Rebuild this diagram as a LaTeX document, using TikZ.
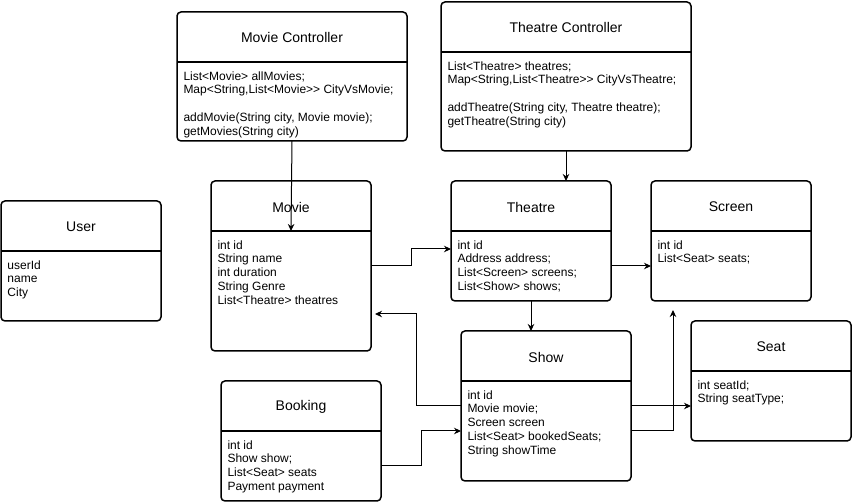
\documentclass[tikz,border=0pt]{standalone}
\usepackage{fontspec}
\setmainfont{Liberation Sans}
\usetikzlibrary{arrows.meta,positioning,calc}

\begin{document}
\begin{tikzpicture}[x=1pt, y=-1pt, >={Stealth[length=7pt,width=6.5pt]}, line width=1pt,
    classbox/.style={draw, line width=1.5pt, rounded corners=4pt, anchor=north west,
      inner sep=0pt, outer sep=0pt},
    title/.style={font=\fontsize{14}{16}\selectfont},
    body/.style={anchor=north west, inner sep=0pt, align=left, font=\fontsize{12}{13.8}\selectfont}]
  \useasboundingbox (0,0) rectangle (852,502);

  % class boxes
  \node[classbox, minimum width=230pt, minimum height=129pt] (moviectrl) at (177,12) {};
  \node[classbox, minimum width=250pt, minimum height=149pt] (thctrl) at (441,2) {};
  \node[classbox, minimum width=160pt, minimum height=120pt] (user) at (1,201) {};
  \node[classbox, minimum width=160pt, minimum height=170pt] (movie) at (211,181) {};
  \node[classbox, minimum width=160pt, minimum height=120pt] (theatre) at (451,181) {};
  \node[classbox, minimum width=160pt, minimum height=120pt] (screen) at (651,181) {};
  \node[classbox, minimum width=170pt, minimum height=150pt] (show) at (461,331) {};
  \node[classbox, minimum width=160pt, minimum height=120pt] (seat) at (691,321) {};
  \node[classbox, minimum width=160pt, minimum height=120pt] (booking) at (221,381) {};

  \foreach \n in {moviectrl,thctrl,user,movie,theatre,screen,show,seat,booking}
    \draw[line width=1.5pt] ([yshift=-50pt]\n.north west) -- ([yshift=-50pt]\n.north east);

  % titles
  \node[title] (moviectrl-t) at ([yshift=-26pt]moviectrl.north) {Movie Controller};
  \node[title] (thctrl-t) at ([yshift=-26pt]thctrl.north) {Theatre Controller};
  \node[title] (user-t) at ([yshift=-26pt]user.north) {User};
  \node[title] (movie-t) at ([yshift=-26pt]movie.north) {Movie};
  \node[title] (theatre-t) at ([yshift=-26pt]theatre.north) {Theatre};
  \node[title] (screen-t) at ([yshift=-26pt]screen.north) {Screen};
  \node[title] (show-t) at ([yshift=-26pt]show.north) {Show};
  \node[title] (seat-t) at ([yshift=-26pt]seat.north) {Seat};
  \node[title] (booking-t) at ([yshift=-26pt]booking.north) {Booking};

  % members
  \node[body] (moviectrl-b) at ([xshift=6pt,yshift=-59pt]moviectrl.north west)
    {List<Movie> allMovies;\\Map<String,List<Movie{>}> CityVsMovie;\\[13.8pt]
     addMovie(String city, Movie movie);\\getMovies(String city)};
  \node[body] (thctrl-b) at ([xshift=6pt,yshift=-59pt]thctrl.north west)
    {List<Theatre> theatres;\\Map<String,List<Theatre{>}> CityVsTheatre;\\[13.8pt]
     addTheatre(String city, Theatre theatre);\\getTheatre(String city)};
  \node[body] (user-b) at ([xshift=6pt,yshift=-59pt]user.north west)
    {userId\\name\\City};
  \node[body] (movie-b) at ([xshift=6pt,yshift=-59pt]movie.north west)
    {int id\\String name\\int duration\\String Genre\\List<Theatre> theatres};
  \node[body] (theatre-b) at ([xshift=6pt,yshift=-59pt]theatre.north west)
    {int id\\Address address;\\List<Screen> screens;\\List<Show> shows;};
  \node[body] (screen-b) at ([xshift=6pt,yshift=-59pt]screen.north west)
    {int id\\List<Seat> seats;};
  \node[body] (show-b) at ([xshift=6pt,yshift=-59pt]show.north west)
    {int id\\Movie movie;\\Screen screen\\List<Seat> bookedSeats;\\String showTime};
  \node[body] (seat-b) at ([xshift=6pt,yshift=-59pt]seat.north west)
    {int seatId;\\String seatType;};
  \node[body] (booking-b) at ([xshift=6pt,yshift=-59pt]booking.north west)
    {int id\\Show show;\\List<Seat> seats\\Payment payment};

  % associations
  \draw[->] (moviectrl.south) -- ([yshift=-50pt]movie.north);
  \draw[->] (thctrl.south) -- (thctrl.south |- theatre.north);
  \draw[->] (movie.east) -- ++(40pt,0) |- ([yshift=-8pt]theatre.west);
  \draw[->] ([yshift=-25pt]theatre.east) -- ([yshift=-25pt]screen.west);
  \draw[->] (theatre.south) -- (theatre.south |- show.north);
  \draw[->] (show.west) -- ++(-45pt,0) |- ([xshift=4pt,yshift=-48pt]movie.east);
  \draw[->] ([yshift=-25pt]booking.east) -- ++(40pt,0) |- ([yshift=-25pt]show.west);
  \draw[->] (show.east) -- (show.east -| seat.west);
  \draw[->] ([yshift=-25pt]show.east) -| ([xshift=-58pt,yshift=-9pt]screen.south);
\end{tikzpicture}
\end{document}
